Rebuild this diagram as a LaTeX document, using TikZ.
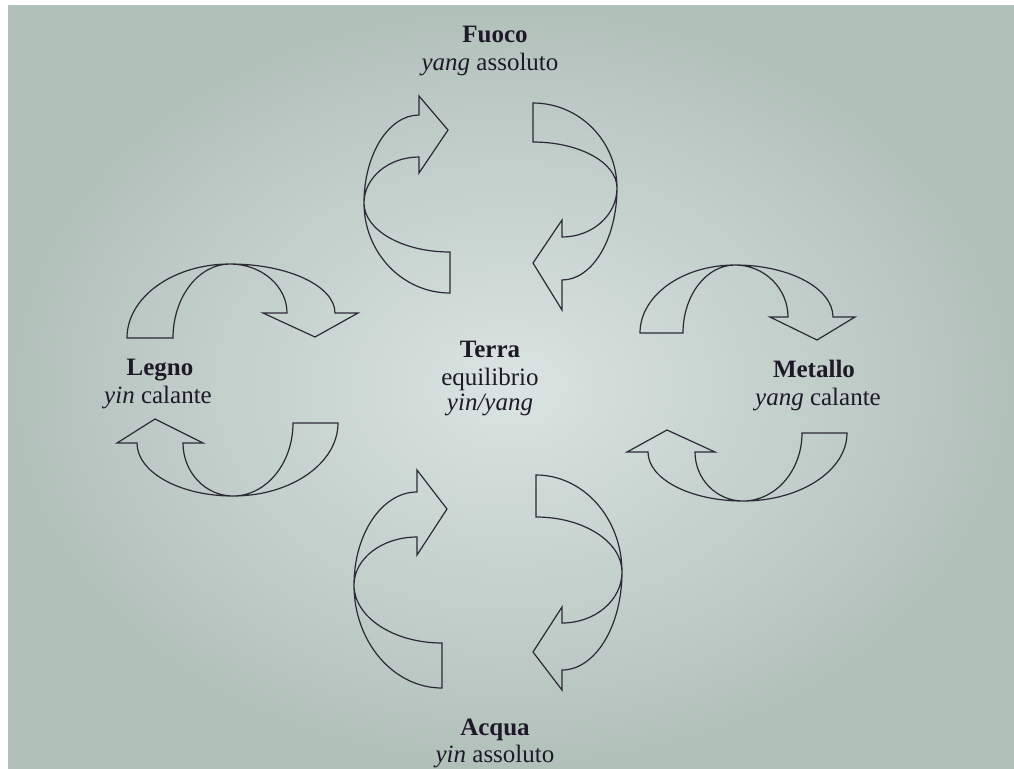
\documentclass[tikz,border=0pt]{standalone}
\usepackage{fontspec}
\setmainfont{Liberation Serif}
\definecolor{paperlight}{RGB}{218,228,226}
\definecolor{paperdark}{RGB}{178,192,186}
\definecolor{inkline}{RGB}{45,40,55}
\definecolor{inktext}{RGB}{30,25,40}
\tikzset{
  bandline/.style={draw=inkline, line width=0.6pt, line join=miter},
  lab/.style={anchor=base, inner sep=0pt, text=inktext, font=\fontsize{12.5}{14}\selectfont},
  labname/.style={lab, font=\fontsize{12.5}{14}\selectfont\bfseries},
}
\begin{document}
\begin{tikzpicture}[x=0.5pt, y=-0.5pt]
\clip (0,0) rectangle (1014,768);
\useasboundingbox (0,0) rectangle (1014,768);
\fill[white] (0,0) rectangle (1014,768);
\shade[inner color=paperlight, outer color=paperdark] (8,5) rectangle (1014,768);

% curved band arrows: name/rotation/centre/outer r/inner r/perp r/head offset/outer r2/inner r2/barbs/tip
\foreach \nm/\rot/\cx/\cy/\Ro/\Ri/\Rp/\h/\Rot/\Rit/\eo/\ei/\at/\dd in {
  fl/-90/450/203/90/49/86/31/88/46/19/16/73/29,
  fr/90/533/188/85/46/84/29/92/49/30/17/75/29,
  lt/180/230/338/103/57/74/25/105/57/23/24/85/24,
  lb/0/233/423/105/60/73/20/96/50/20/20/78/24,
  mt/180/735/333/95/52/68/16/98/53/22/18/82/23,
  mb/0/743/433/104/59/68/19/95/48/21/20/76/22,
  al/-90/442/585/103/58/88/25/93/48/22/18/76/30,
  ar/90/536/572/97/55/86/26/98/51/20/16/80/29}{
  \pgfmathsetmacro\Rq{\Rp-\h}
  \pgfmathsetmacro\tipy{\h-\dd}
  \pgfmathsetmacro\barbi{-\Rit+\ei}
  \begin{scope}[shift={(\cx,\cy)}, rotate=\rot]
    \draw[bandline] (\Ro,0)
      arc[start angle=0, end angle=90, x radius=\Ro, y radius=\Rp]
      arc[start angle=90, end angle=180, x radius=\Rot, y radius=\Rq]
      -- ++(-\eo,0) -- (-\at,\tipy) -- (\barbi,\h) -- (-\Rit,\h)
      arc[start angle=180, end angle=90, x radius=\Rit, y radius=\Rq]
      arc[start angle=90, end angle=0, x radius=\Ri, y radius=\Rp]
      -- cycle;
  \end{scope}
}

\node[labname] (fuoco) at (495,42) {Fuoco};
\node[lab] (fuocosub) at (490,70) {\textit{yang} assoluto};
\node[labname] (legno) at (160,375) {Legno};
\node[lab] (legnosub) at (158,403) {\textit{yin} calante};
\node[labname] (metallo) at (814,377) {Metallo};
\node[lab] (metallosub) at (818,405) {\textit{yang} calante};
\node[labname] (terra) at (490,357) {Terra};
\node[lab] (terrasub) at (490,385) {equilibrio};
\node[lab] (terrasub2) at (490,410) {\textit{yin/yang}};
\node[labname] (acqua) at (495,735) {Acqua};
\node[lab] (acquasub) at (495,762) {\textit{yin} assoluto};
\end{tikzpicture}
\end{document}
